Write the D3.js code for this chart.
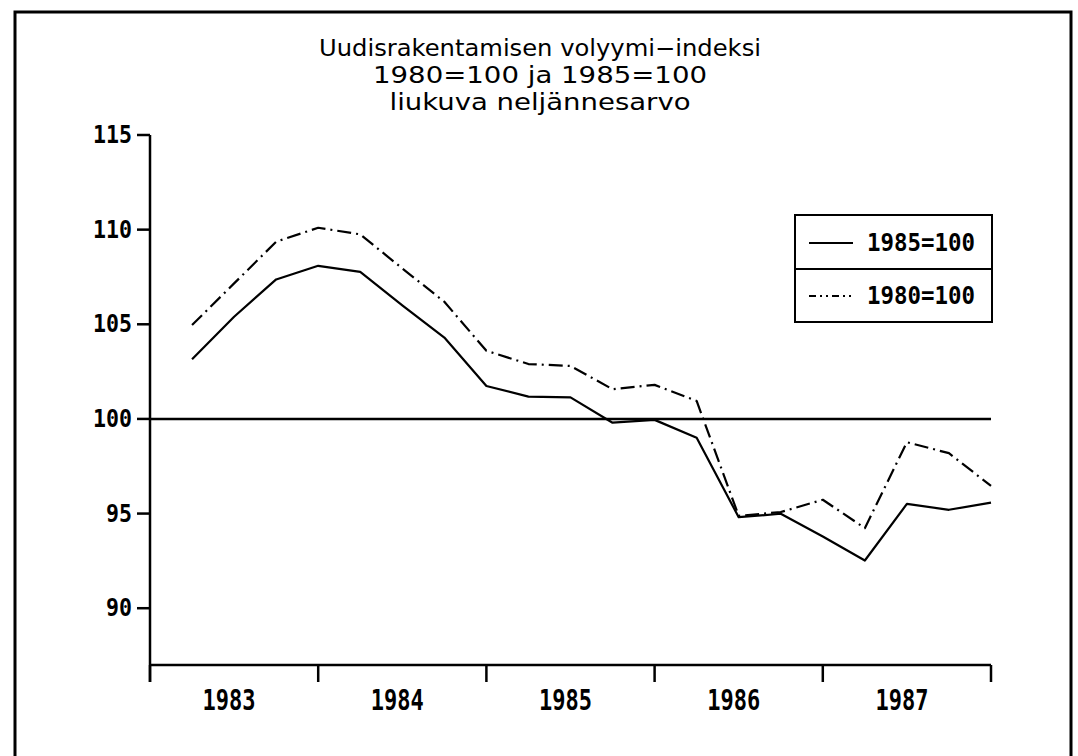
<!DOCTYPE html>
<html>

<head>
  <title>Uudisrakentamisen volyymi-indeksi</title>
  <meta charset="utf-8">
  <style>
    body {
      padding: 0;
      margin: 0;
      background: white;
    }
    .frame {
      fill: none;
      stroke: black;
      stroke-width: 3;
    }
    .title {
      font-family: "DejaVu Sans", sans-serif;
      font-size: 23px;
      fill: black;
      text-anchor: middle;
    }
    .axis path, .axis line, .ref {
      stroke: black;
      stroke-width: 2.5;
      fill: none;
    }
    .tick-label, .legend text {
      font-family: "DejaVu Sans Mono", monospace;
      font-weight: bold;
      fill: black;
    }
    .series {
      fill: none;
      stroke: black;
      stroke-width: 2.2;
      stroke-linejoin: round;
    }
    .legend rect, .legend line.sep {
      fill: none;
      stroke: black;
      stroke-width: 2;
    }
  </style>
</head>

<body>
  <div id="chart"></div>

  <script src="https://d3js.org/d3.v7.min.js"></script>
  <script>
    // title lines
    var titleLines = ["Uudisrakentamisen volyymi\u2212indeksi", "1980=100 ja 1985=100", "liukuva nelj\u00e4nnesarvo"]

    // years on the x axis, four quarters each
    var years = [1983, 1984, 1985, 1986, 1987]
    var quarters = [1, 2, 3, 4]

    // y axis tick values
    var yTicks = [90, 95, 100, 105, 110, 115]

    // series names (as in legend)
    var seriesNames = ["1985=100", "1980=100"]

    // moving quarterly values, 1983 Q1 .. 1987 Q4
    var index1985 = [103.15, 105.4, 107.37, 108.09,
                     107.77, 106.0, 104.3, 101.74,
                     101.18, 101.14, 99.8, 99.95,
                     99.0, 94.81, 94.99, 93.79,
                     92.52, 95.51, 95.2, 95.58]
    var index1980 = [104.96, 107.16, 109.36, 110.1,
                     109.75, 107.95, 106.19, 103.6,
                     102.9, 102.8, 101.57, 101.8,
                     100.95, 94.88, 95.08, 95.73,
                     94.23, 98.77, 98.19, 96.46]

    var width = 1078,
        height = 756

    var svg = d3.select("#chart")
      .append("svg")
      .attr("width", width)
      .attr("height", height)

    // outer frame (bottom edge runs off the page)
    svg.append("rect")
      .attr("class", "frame")
      .attr("x", 15)
      .attr("y", 12)
      .attr("width", 1056)
      .attr("height", 760)

    // title
    var titleWidths = [442, 334, 301]
    svg.selectAll(".title")
      .data(titleLines)
      .enter().append("text")
      .attr("class", "title")
      .attr("x", 540)
      .attr("y", function (d, i) { return 56 + i * 27 })
      .attr("textLength", function (d, i) { return titleWidths[i] })
      .attr("lengthAdjust", "spacingAndGlyphs")
      .text(function (d) { return d })

    // scales
    var x = d3.scaleLinear()
      .domain([years[0], years[years.length - 1] + 1])
      .range([150, 991])

    var y = d3.scaleLinear()
      .domain([87, 115])
      .range([665, 135])

    // x axis: line, ticks at year boundaries
    var xAxis = svg.append("g").attr("class", "axis")
    xAxis.append("path")
      .attr("d", "M" + x.range()[0] + "," + y(87) + "H" + x.range()[1])
    xAxis.selectAll("line")
      .data(years.concat([years[years.length - 1] + 1]))
      .enter().append("line")
      .attr("x1", function (d) { return x(d) })
      .attr("x2", function (d) { return x(d) })
      .attr("y1", y(87))
      .attr("y2", y(87) + 17)
    xAxis.selectAll("text")
      .data(years)
      .enter().append("text")
      .attr("class", "tick-label")
      .attr("x", function (d) { return x(d + 0.5) - 5 })
      .attr("y", 710)
      .attr("text-anchor", "middle")
      .attr("font-size", "28px")
      .attr("textLength", 53)
      .attr("lengthAdjust", "spacingAndGlyphs")
      .text(function (d) { return d })

    // y axis
    var yAxis = svg.append("g").attr("class", "axis")
    yAxis.append("path")
      .attr("d", "M" + x.range()[0] + "," + y(115) + "V" + (y(87) + 17))
    yAxis.selectAll("line")
      .data(yTicks)
      .enter().append("line")
      .attr("x1", 137)
      .attr("x2", 150)
      .attr("y1", function (d) { return y(d) })
      .attr("y2", function (d) { return y(d) })
    yAxis.selectAll("text")
      .data(yTicks)
      .enter().append("text")
      .attr("class", "tick-label")
      .attr("x", 132)
      .attr("y", function (d) { return y(d) + 8 })
      .attr("text-anchor", "end")
      .attr("font-size", "24px")
      .attr("textLength", function (d) { return String(d).length * 13 })
      .attr("lengthAdjust", "spacingAndGlyphs")
      .text(function (d) { return d })

    // reference line at 100
    svg.append("line")
      .attr("class", "ref")
      .attr("x1", x.range()[0])
      .attr("x2", x.range()[1])
      .attr("y1", y(100))
      .attr("y2", y(100))

    // build points: year + quarter/4
    var periods = []
    years.forEach(function (yr) {
      quarters.forEach(function (q) { periods.push(yr + q / 4) })
    })

    var line = d3.line()
      .x(function (d, i) { return x(periods[i]) })
      .y(function (d) { return y(d) })

    var dashes = [null, "14,5,2,5"]

    svg.selectAll(".series")
      .data([index1985, index1980])
      .enter().append("path")
      .attr("class", "series")
      .attr("d", line)
      .attr("stroke-dasharray", function (d, i) { return dashes[i] })

    // legend box
    var legend = svg.append("g").attr("class", "legend")
    legend.append("rect")
      .attr("x", 795)
      .attr("y", 215)
      .attr("width", 197)
      .attr("height", 107)
    legend.append("line")
      .attr("class", "sep")
      .attr("x1", 795)
      .attr("x2", 992)
      .attr("y1", 269)
      .attr("y2", 269)

    var rows = legend.selectAll("g")
      .data(seriesNames)
      .enter().append("g")
      .attr("transform", function (d, i) { return "translate(0," + (243 + i * 53) + ")" })

    rows.append("line")
      .attr("class", "series")
      .attr("x1", 809)
      .attr("x2", 853)
      .attr("stroke-dasharray", function (d, i) { return i ? "7,4,2,4,2,4" : null })

    rows.append("text")
      .attr("x", 867)
      .attr("y", 8)
      .attr("font-size", "24px")
      .attr("textLength", 108)
      .attr("lengthAdjust", "spacingAndGlyphs")
      .text(function (d) { return d })
  </script>
</body>

</html>
